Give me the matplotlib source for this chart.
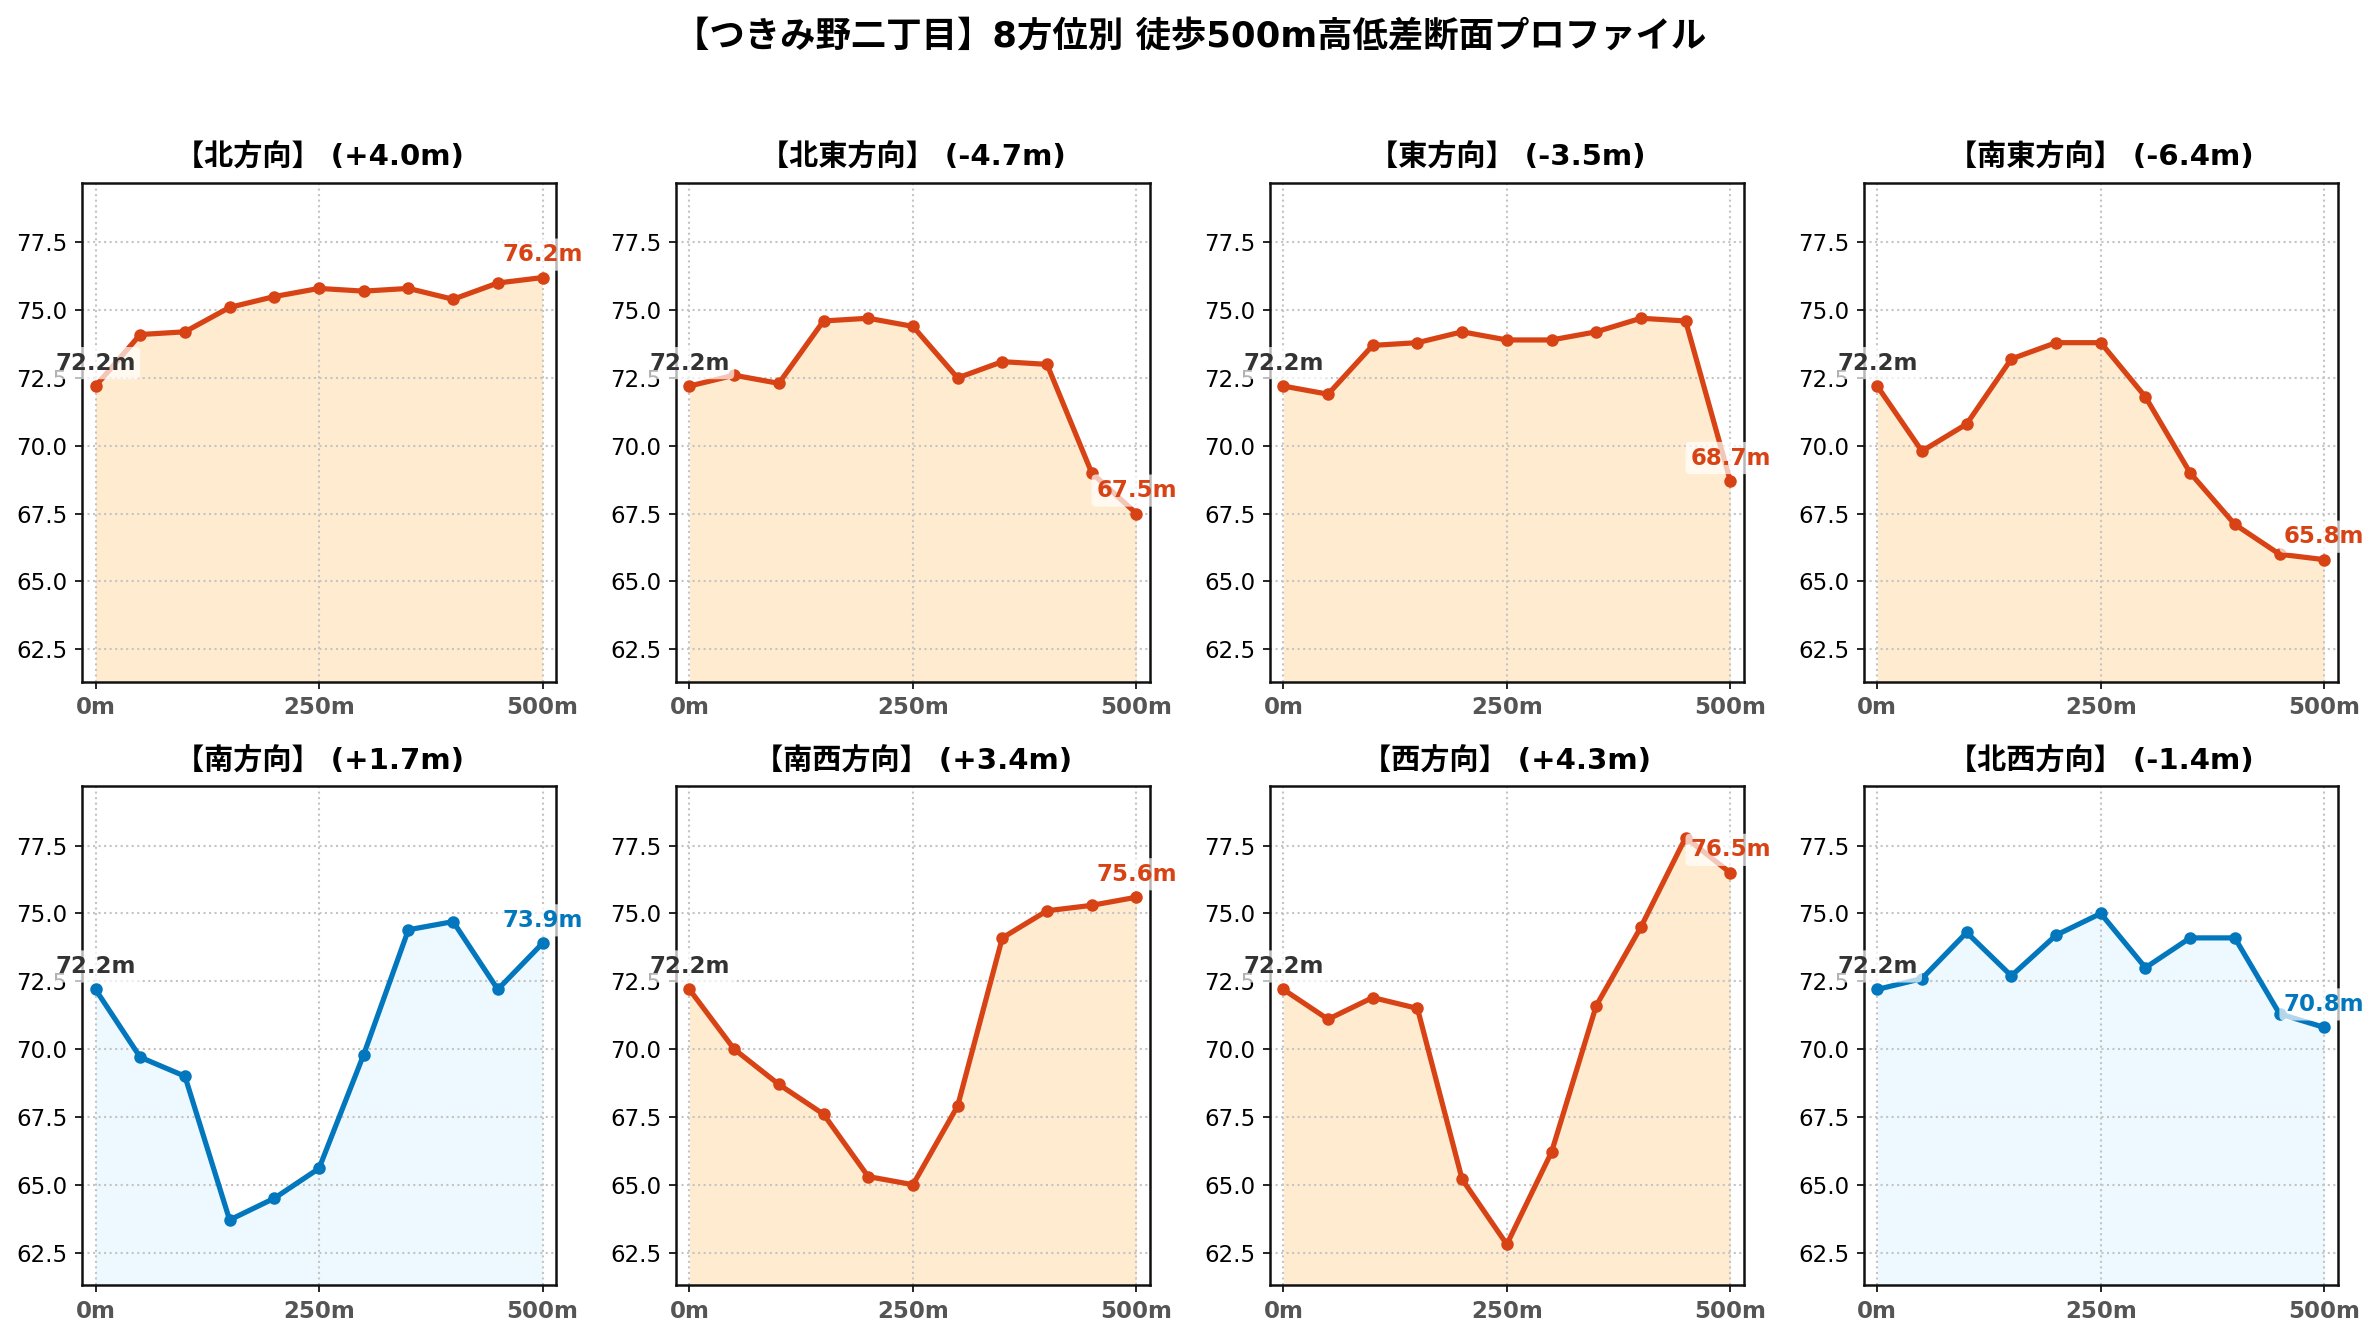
import numpy as np
import matplotlib
matplotlib.use('Agg')
import matplotlib.pyplot as plt

plt.rcParams['font.family'] = ['DejaVu Sans', 'Noto Sans CJK JP']

# distance along the walk (m)
dist = [0, 50, 100, 150, 200, 250, 300, 350, 400, 450, 500]

directions = ['北', '北東', '東', '南東', '南', '南西', '西', '北西']

# elevation (m) per direction
elev_n = [72.2, 74.1, 74.2, 75.1, 75.5, 75.8, 75.7, 75.8, 75.4, 76.0, 76.2]
elev_ne = [72.2, 72.6, 72.3, 74.6, 74.7, 74.4, 72.5, 73.1, 73.0, 69.0, 67.5]
elev_e = [72.2, 71.9, 73.7, 73.8, 74.2, 73.9, 73.9, 74.2, 74.7, 74.6, 68.7]
elev_se = [72.2, 69.8, 70.8, 73.2, 73.8, 73.8, 71.8, 69.0, 67.1, 66.0, 65.8]
elev_s = [72.2, 69.7, 69.0, 63.7, 64.5, 65.6, 69.8, 74.4, 74.7, 72.2, 73.9]
elev_sw = [72.2, 70.0, 68.7, 67.6, 65.3, 65.0, 67.9, 74.1, 75.1, 75.3, 75.6]
elev_w = [72.2, 71.1, 71.9, 71.5, 65.2, 62.8, 66.2, 71.6, 74.5, 77.8, 76.5]
elev_nw = [72.2, 72.6, 74.3, 72.7, 74.2, 75.0, 73.0, 74.1, 74.1, 71.3, 70.8]

profiles = [elev_n, elev_ne, elev_e, elev_se, elev_s, elev_sw, elev_w, elev_nw]

y_low, y_high = 61.3, 79.7

fig, axes = plt.subplots(2, 4, figsize=(2380 / 150, 1340 / 150), dpi=150)
fig.subplots_adjust(left=0.0345, right=0.9822, top=0.8637, bottom=0.041,
                    wspace=0.2535, hspace=0.209)

for ax, name, elev in zip(axes.flat, directions, profiles):
    diff = elev[-1] - elev[0]
    # big change -> orange, small change -> blue
    if abs(diff) >= 3:
        line_c, fill_c = '#D84315', '#FFE0B2'
    else:
        line_c, fill_c = '#0277BD', '#E1F5FE'

    ax.fill_between(dist, elev, y_low, color=fill_c, alpha=0.6, linewidth=0)
    ax.plot(dist, elev, color=line_c, linewidth=2.5, marker='o', markersize=5)

    ax.annotate(f'{elev[0]:.1f}m', (dist[0], elev[0]), xytext=(0, 5.5),
                textcoords='offset points', ha='center', va='bottom',
                fontsize=11, fontweight='bold', color='#333333',
                bbox=dict(boxstyle='round,pad=0.2', fc='white', ec='none', alpha=0.7))
    ax.annotate(f'{elev[-1]:.1f}m', (dist[-1], elev[-1]), xytext=(0, 5.5),
                textcoords='offset points', ha='center', va='bottom',
                fontsize=11, fontweight='bold', color=line_c,
                bbox=dict(boxstyle='round,pad=0.2', fc='white', ec='none', alpha=0.7))

    ax.set_title(f'【{name}方向】 ({diff:+.1f}m)', fontsize=14, fontweight='bold', pad=8)
    ax.set_xlim(-15, 515)
    ax.set_ylim(y_low, y_high)
    ax.set_xticks([0, 250, 500])
    ax.set_xticklabels(['0m', '250m', '500m'], fontweight='bold', color='#555555')
    ax.set_yticks([62.5, 65.0, 67.5, 70.0, 72.5, 75.0, 77.5])
    ax.tick_params(labelsize=11)
    ax.grid(True, linestyle=':', color='#c4c4c4', linewidth=1)
    for sp in ax.spines.values():
        sp.set_linewidth(1.2)
        sp.set_color('#111111')

fig.suptitle('【つきみ野二丁目】8方位別 徒歩500m高低差断面プロファイル',
             fontsize=17, fontweight='bold', y=0.985)

plt.savefig('out.png', dpi=150)
